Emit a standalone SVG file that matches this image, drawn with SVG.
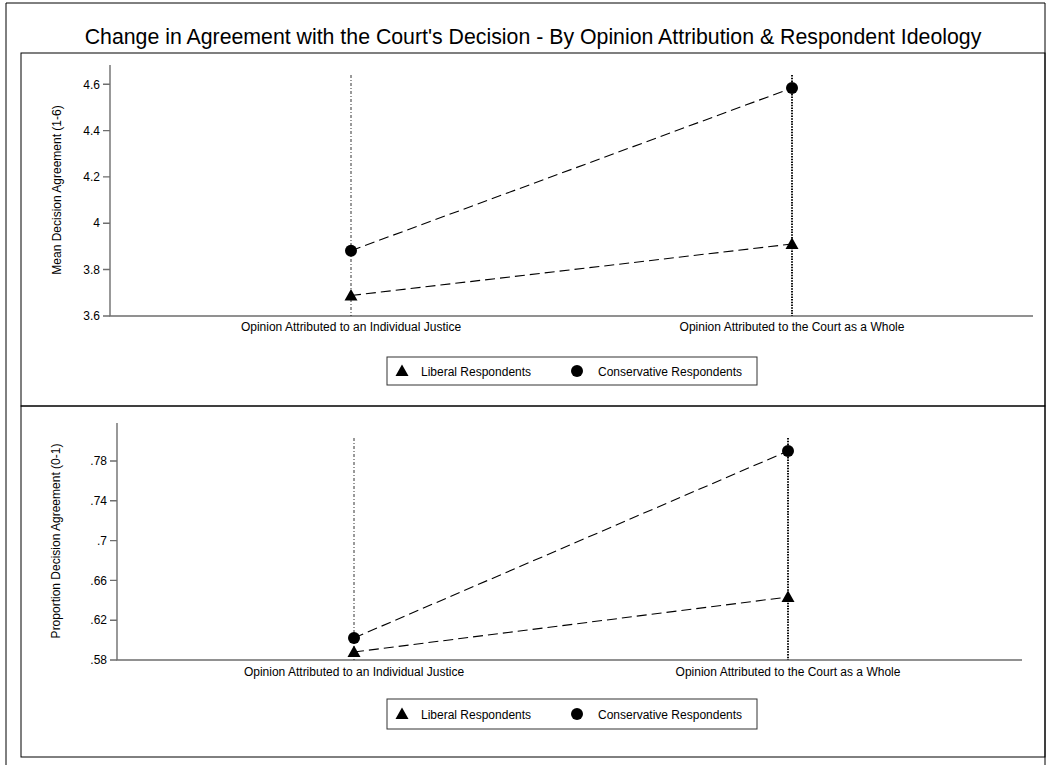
<svg xmlns="http://www.w3.org/2000/svg" width="1050" height="765" viewBox="0 0 1050 765">
<style>
text{font-family:"Liberation Sans",Arial,sans-serif;fill:#000}
.title{font-size:21.3px}
.lab{font-size:12px}
.tick{font-size:12px;text-anchor:end}
.ctr{text-anchor:middle}
.frame{fill:none;stroke:#000;stroke-width:1}
.axis{fill:none;stroke:#6e6e6e;stroke-width:1.4}
.vl1{fill:none;stroke:#000;stroke-width:0.8;stroke-dasharray:3 2 1 2}
.vl2{fill:none;stroke:#111;stroke-width:2;stroke-dasharray:1.5 1.2}
.conn{fill:none;stroke:#000;stroke-width:1.1;stroke-dasharray:10 5}
.mk{fill:#000}
.leg{fill:#fff;stroke:#333;stroke-width:1}
</style>
<defs>
<path id="tri" d="M0,-6.5 L6.5,5 L-6.5,5 Z"/>
</defs>
<rect width="1050" height="765" fill="#fff"/>
<path class="frame" d="M6,765 V3 H1045 V765"/>
<text class="title ctr" x="533" y="44">Change in Agreement with the Court's Decision - By Opinion Attribution &amp; Respondent Ideology</text>

<g id="panel-top">
<rect class="frame" x="21" y="53" width="1024" height="353"/>
<g id="top-axes">
<path class="axis" d="M110,65 V316 H1033"/>
<path class="axis" d="M103,84.3 H110 M103,130.6 H110 M103,176.9 H110 M103,223.2 H110 M103,269.5 H110 M103,316 H110"/>
<text class="tick" x="100" y="88.5">4.6</text>
<text class="tick" x="100" y="134.8">4.4</text>
<text class="tick" x="100" y="181.1">4.2</text>
<text class="tick" x="100" y="227.4">4</text>
<text class="tick" x="100" y="273.7">3.8</text>
<text class="tick" x="100" y="320.2">3.6</text>
<text class="lab ctr" transform="translate(61,190) rotate(-90)">Mean Decision Agreement (1-6)</text>
<text class="lab ctr" x="351" y="331">Opinion Attributed to an Individual Justice</text>
<text class="lab ctr" x="792" y="331">Opinion Attributed to the Court as a Whole</text>
</g>
<g id="top-connectors">
<path class="vl1" d="M351,75 V316"/>
<path class="vl2" d="M792,75 V316"/>
<path class="conn" d="M351,250.7 L792,88"/>
<path class="conn" d="M351,295.5 L792,244"/>
</g>
<g id="top-markers">
<circle class="mk" cx="351" cy="250.7" r="6"/>
<circle class="mk" cx="792" cy="88" r="6"/>
<use href="#tri" class="mk" x="351" y="295.5"/>
<use href="#tri" class="mk" x="792" y="244"/>
</g>
<g id="top-legend">
<rect class="leg" x="387" y="357" width="370" height="28"/>
<use href="#tri" class="mk" x="402" y="371"/>
<text class="lab" x="421" y="375.5">Liberal Respondents</text>
<circle class="mk" cx="577" cy="371" r="6"/>
<text class="lab" x="598" y="375.5">Conservative Respondents</text>
</g>
</g>

<g id="panel-bottom">
<rect class="frame" x="21" y="406" width="1024" height="351"/>
<g id="bottom-axes">
<path class="axis" d="M117,423 V660 H1022"/>
<path class="axis" d="M110,461 H117 M110,500.8 H117 M110,540.6 H117 M110,580.4 H117 M110,620.2 H117 M110,660 H117"/>
<text class="tick" x="107" y="465.2">.78</text>
<text class="tick" x="107" y="505">.74</text>
<text class="tick" x="107" y="544.8">.7</text>
<text class="tick" x="107" y="584.6">.66</text>
<text class="tick" x="107" y="624.4">.62</text>
<text class="tick" x="107" y="664.2">.58</text>
<text class="lab ctr" transform="translate(60,541) rotate(-90)">Proportion Decision Agreement (0-1)</text>
<text class="lab ctr" x="354" y="676">Opinion Attributed to an Individual Justice</text>
<text class="lab ctr" x="788" y="676">Opinion Attributed to the Court as a Whole</text>
</g>
<g id="bottom-connectors">
<path class="vl1" d="M354,438 V660"/>
<path class="vl2" d="M788,438 V660"/>
<path class="conn" d="M354,638 L788,451"/>
<path class="conn" d="M354,652 L788,597"/>
</g>
<g id="bottom-markers">
<circle class="mk" cx="354" cy="638" r="6"/>
<circle class="mk" cx="788" cy="451" r="6"/>
<use href="#tri" class="mk" x="354" y="652"/>
<use href="#tri" class="mk" x="788" y="597"/>
</g>
<g id="bottom-legend">
<rect class="leg" x="387" y="699" width="370" height="30"/>
<use href="#tri" class="mk" x="402" y="714"/>
<text class="lab" x="421" y="718.5">Liberal Respondents</text>
<circle class="mk" cx="577" cy="714" r="6"/>
<text class="lab" x="598" y="718.5">Conservative Respondents</text>
</g>
</g>
</svg>
